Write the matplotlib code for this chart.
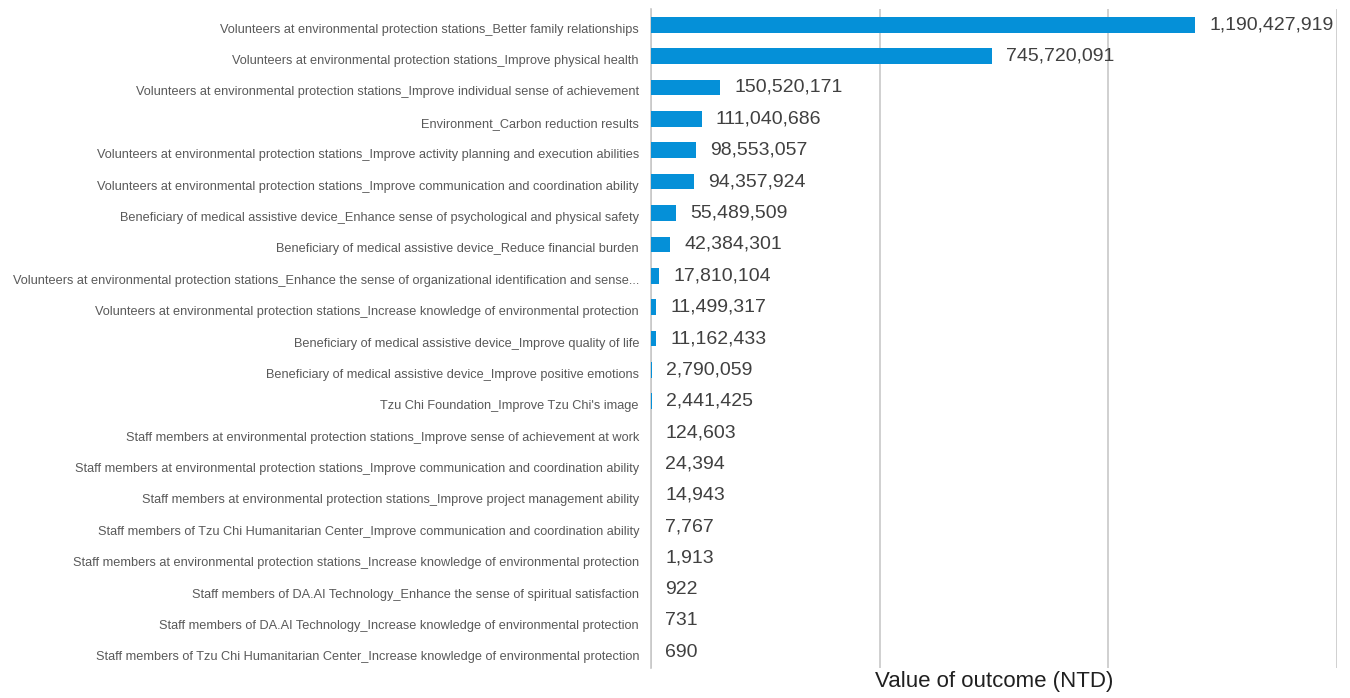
import matplotlib.pyplot as plt
import matplotlib.transforms as mtransforms
import numpy as np

# outcome categories, top to bottom as shown
categories = [
    "Volunteers at environmental protection stations_Better family relationships",
    "Volunteers at environmental protection stations_Improve physical health",
    "Volunteers at environmental protection stations_Improve individual sense of achievement",
    "Environment_Carbon reduction results",
    "Volunteers at environmental protection stations_Improve activity planning and execution abilities",
    "Volunteers at environmental protection stations_Improve communication and coordination ability",
    "Beneficiary of medical assistive device_Enhance sense of psychological and physical safety",
    "Beneficiary of medical assistive device_Reduce financial burden",
    "Volunteers at environmental protection stations_Enhance the sense of organizational identification and sense...",
    "Volunteers at environmental protection stations_Increase knowledge of environmental protection",
    "Beneficiary of medical assistive device_Improve quality of life",
    "Beneficiary of medical assistive device_Improve positive emotions",
    "Tzu Chi Foundation_Improve Tzu Chi's image",
    "Staff members at environmental protection stations_Improve sense of achievement at work",
    "Staff members at environmental protection stations_Improve communication and coordination ability",
    "Staff members at environmental protection stations_Improve project management ability",
    "Staff members of Tzu Chi Humanitarian Center_Improve communication and coordination ability",
    "Staff members at environmental protection stations_Increase knowledge of environmental protection",
    "Staff members of DA.AI Technology_Enhance the sense of spiritual satisfaction",
    "Staff members of DA.AI Technology_Increase knowledge of environmental protection",
    "Staff members of Tzu Chi Humanitarian Center_Increase knowledge of environmental protection",
]
values = [1190427919, 745720091, 150520171, 111040686, 98553057, 94357924,
          55489509, 42384301, 17810104, 11499317, 11162433, 2790059, 2441425,
          124603, 24394, 14943, 7767, 1913, 922, 731, 690]

fig = plt.figure(figsize=(13.5, 6.98), dpi=100)
ax = fig.add_axes([651 / 1350, 1 - 668 / 698, 686 / 1350, 659 / 698])

y = np.arange(len(categories))
ax.barh(y, values, height=0.5, color="#0590D8", linewidth=0, zorder=3)
for yi, v in zip(y, values):
    ax.text(v + 3.1e7, yi, f"{v:,}", va="center", ha="left", fontsize=14,
            color="#404040", family=["Liberation Sans", "DejaVu Sans"], zorder=4)

ax.set_ylim(len(categories) - 0.5, -0.5)
ax.set_xlim(0, 1.5e9)
ax.set_yticks([])

# category labels: right-aligned left of the axis, a bit below the bar centre
lab_tr = mtransforms.blended_transform_factory(ax.transAxes, ax.transData)
lab_tr = lab_tr + mtransforms.ScaledTranslation(-0.12, -0.05, fig.dpi_scale_trans)
for yi, name in zip(y, categories):
    ax.text(0, yi, name, transform=lab_tr, ha="right", va="center",
            fontsize=9.2, color="#595959", family=["Liberation Sans", "DejaVu Sans"])

ax.set_xticks([0, 5e8, 1e9, 1.5e9])
ax.set_xticklabels([])
ax.tick_params(length=0)
ax.grid(axis="x", color="#C8C8C8", linewidth=1.2, zorder=0)
for s in ["top", "right", "bottom"]:
    ax.spines[s].set_visible(False)
ax.spines["left"].set_color("#C8C8C8")
ax.spines["left"].set_linewidth(1.2)
fig.text(994 / 1350, 1 - 682 / 698, "Value of outcome (NTD)", fontsize=16,
         color="#202020", ha="center", va="center",
         family=["Liberation Sans", "DejaVu Sans"])

fig.savefig("out.png", dpi=100)
